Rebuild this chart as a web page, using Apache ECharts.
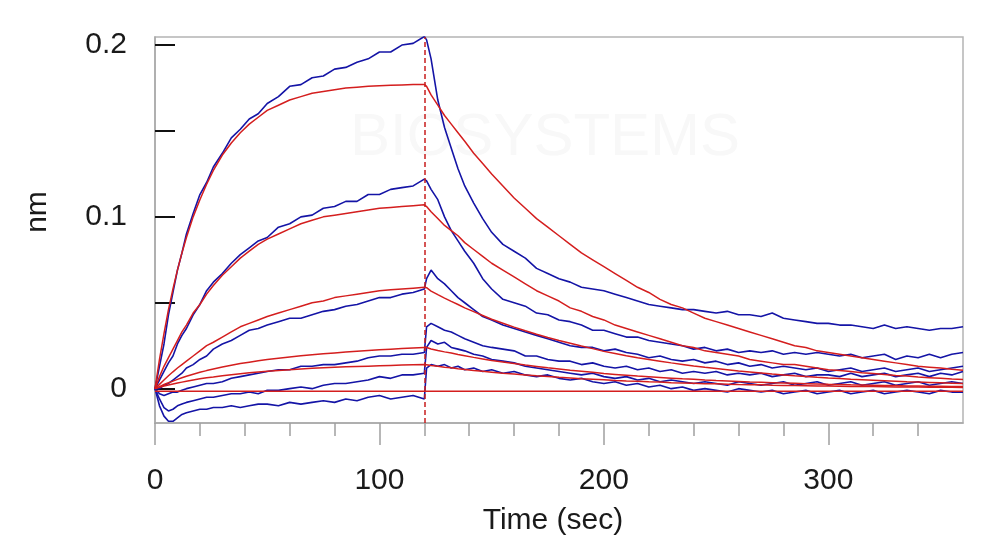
<!DOCTYPE html>
<html>
<head>
<meta charset="utf-8">
<script src="https://cdn.jsdelivr.net/npm/echarts@6/dist/echarts.min.js"></script>
<style>
    html, body { margin: 0; padding: 0; background: #ffffff; }
    #kinetics { width: 1000px; height: 557px; }
</style>
</head>
<body>
<div id="kinetics"></div>
<script>
// time points (sec): association phase, then dissociation after the switch
var assocTime = [0,2,4,6,8,10,12,14,17,20,23,26,30,34,38,42,46,50,55,60,65,70,75,80,85,90,95,100,105,110,115,120];
var dissocTime = [121,123,126,129,132,135,138,142,146,150,155,160,165,170,175,180,185,190,195,200,
    205,210,215,220,225,230,235,240,245,250,255,260,265,270,275,280,285,290,295,300,
    305,310,315,320,325,330,335,340,345,350,355,360];
var switchTime = 120;

// measured traces (nm)
var trace1On = [0.000,0.013,0.026,0.043,0.056,0.069,0.079,0.090,0.102,0.113,0.120,0.129,0.137,0.146,0.151,0.157,0.160,0.166,0.170,0.176,0.177,0.181,0.182,0.186,0.187,0.190,0.192,0.196,0.196,0.200,0.201,0.205];
var trace1Off = [0.203,0.192,0.168,0.152,0.140,0.128,0.118,0.108,0.099,0.091,
    0.084,0.080,0.076,0.070,0.067,0.064,0.062,0.059,0.058,0.057,
    0.055,0.053,0.051,0.049,0.048,0.047,0.046,0.046,0.045,0.044,
    0.045,0.043,0.043,0.042,0.044,0.041,0.040,0.039,0.038,0.038,
    0.037,0.037,0.036,0.035,0.037,0.035,0.036,0.035,0.034,0.035,
    0.035,0.036];
var trace2On = [0.000,0.005,0.010,0.015,0.019,0.026,0.031,0.035,0.043,0.049,0.057,0.062,0.067,0.073,0.078,0.082,0.086,0.088,0.094,0.096,0.100,0.101,0.105,0.106,0.109,0.109,0.113,0.113,0.116,0.117,0.118,0.122];
var trace2Off = [0.121,0.116,0.110,0.100,0.092,0.086,0.080,0.073,0.064,0.058,
    0.052,0.050,0.048,0.044,0.043,0.040,0.039,0.037,0.034,0.034,
    0.032,0.030,0.030,0.028,0.027,0.026,0.025,0.023,0.024,0.022,
    0.023,0.021,0.022,0.021,0.022,0.020,0.021,0.020,0.021,0.020,
    0.019,0.020,0.018,0.019,0.020,0.017,0.019,0.018,0.020,0.018,
    0.020,0.021];
var trace3On = [0.000,0.000,0.002,0.003,0.005,0.007,0.009,0.012,0.014,0.017,0.019,0.023,0.026,0.028,0.031,0.034,0.035,0.037,0.039,0.041,0.041,0.043,0.045,0.046,0.048,0.049,0.051,0.053,0.053,0.055,0.056,0.058];
var trace3Off = [0.064,0.069,0.064,0.061,0.057,0.053,0.050,0.046,0.042,0.040,
    0.037,0.035,0.033,0.031,0.029,0.027,0.025,0.024,0.024,0.022,
    0.023,0.021,0.020,0.018,0.019,0.017,0.016,0.017,0.015,0.016,
    0.014,0.015,0.013,0.014,0.012,0.013,0.012,0.011,0.012,0.010,
    0.011,0.012,0.010,0.011,0.012,0.010,0.011,0.012,0.010,0.011,
    0.012,0.013];
var trace4On = [0.000,-0.003,-0.004,-0.003,-0.002,-0.002,-0.001,0.000,0.001,0.002,0.003,0.003,0.004,0.006,0.007,0.008,0.009,0.010,0.011,0.011,0.013,0.013,0.014,0.014,0.015,0.016,0.018,0.019,0.019,0.020,0.020,0.021];
var trace4Off = [0.036,0.038,0.036,0.034,0.033,0.031,0.029,0.027,0.025,0.024,
    0.023,0.022,0.019,0.019,0.017,0.016,0.016,0.014,0.015,0.013,
    0.012,0.013,0.011,0.012,0.010,0.011,0.009,0.010,0.009,0.010,
    0.008,0.009,0.008,0.009,0.007,0.008,0.009,0.007,0.008,0.008,
    0.007,0.009,0.007,0.008,0.009,0.007,0.008,0.009,0.007,0.009,
    0.008,0.010];
var trace5On = [0.000,-0.006,-0.011,-0.013,-0.012,-0.010,-0.009,-0.008,-0.007,-0.006,-0.005,-0.005,-0.004,-0.003,-0.003,-0.002,-0.003,-0.001,-0.001,0.000,0.001,0.000,0.002,0.003,0.003,0.004,0.005,0.007,0.006,0.008,0.008,0.009];
var trace5Off = [0.024,0.028,0.026,0.027,0.024,0.023,0.022,0.020,0.019,0.017,
    0.016,0.015,0.013,0.012,0.011,0.010,0.009,0.008,0.009,0.007,
    0.006,0.007,0.005,0.006,0.004,0.005,0.004,0.003,0.004,0.003,
    0.002,0.004,0.003,0.002,0.003,0.004,0.002,0.003,0.004,0.002,
    0.003,0.004,0.002,0.003,0.004,0.002,0.003,0.004,0.002,0.003,
    0.004,0.003];
var trace6On = [0.000,-0.010,-0.016,-0.019,-0.019,-0.017,-0.015,-0.014,-0.013,-0.012,-0.012,-0.011,-0.011,-0.010,-0.011,-0.010,-0.009,-0.009,-0.010,-0.008,-0.009,-0.008,-0.007,-0.008,-0.006,-0.007,-0.005,-0.004,-0.006,-0.005,-0.004,-0.006];
var trace6Off = [0.012,0.014,0.013,0.014,0.012,0.013,0.011,0.012,0.010,0.011,
    0.009,0.010,0.008,0.007,0.008,0.006,0.005,0.006,0.004,0.003,
    0.004,0.002,0.003,0.001,0.002,0.000,0.001,-0.001,0.000,-0.001,
    -0.002,0.000,-0.001,-0.002,-0.001,-0.003,-0.002,-0.001,-0.003,-0.002,
    -0.001,-0.003,-0.002,-0.001,-0.003,-0.002,-0.001,-0.002,-0.003,-0.001,
    -0.002,-0.002];

// fitted curves (nm)
var fit1On = [0,0.017,0.032,0.046,0.058,0.069,0.079,0.088,0.100,0.110,0.119,0.127,0.136,0.143,0.149,0.154,0.158,0.162,0.165,0.168,0.170,0.172,0.173,0.174,0.175,0.1755,0.176,0.1763,0.1766,0.1768,0.177,0.1771];
var fit1Off = [0.176,0.171,0.165,0.159,0.154,0.149,0.144,0.137,0.131,0.125,
    0.118,0.111,0.105,0.099,0.094,0.089,0.084,0.079,0.075,0.071,
    0.067,0.063,0.059,0.056,0.052,0.049,0.047,0.044,0.041,0.039,
    0.037,0.035,0.033,0.031,0.029,0.027,0.025,0.024,0.022,0.021,
    0.020,0.019,0.018,0.017,0.016,0.015,0.014,0.013,0.0125,0.012,
    0.0113,0.0107];
var fit2On = [0,0.007,0.013,0.018,0.023,0.028,0.033,0.037,0.044,0.049,0.055,0.060,0.066,0.071,0.076,0.080,0.084,0.087,0.090,0.093,0.096,0.098,0.100,0.101,0.102,0.103,0.104,0.105,0.1055,0.106,0.1065,0.107];
var fit2Off = [0.106,0.103,0.099,0.095,0.092,0.089,0.085,0.081,0.077,0.073,
    0.069,0.065,0.061,0.057,0.054,0.051,0.047,0.045,0.042,0.040,
    0.037,0.035,0.033,0.031,0.029,0.027,0.025,0.024,0.022,0.021,
    0.020,0.019,0.017,0.016,0.015,0.014,0.014,0.013,0.012,0.011,
    0.0105,0.010,0.0093,0.0088,0.0082,0.0077,0.0073,0.0068,0.0064,0.006,
    0.0056,0.0053];
var fit3On = [0,0.0025,0.005,0.0075,0.0098,0.012,0.014,0.016,0.019,0.022,0.025,0.027,0.030,0.033,0.036,0.038,0.040,0.042,0.044,0.046,0.048,0.050,0.051,0.053,0.054,0.055,0.056,0.057,0.0575,0.058,0.0585,0.059];
var fit3Off = [0.0588,0.0568,0.0547,0.0527,0.0508,0.049,0.047,0.0448,0.0426,0.0404,
    0.0381,0.0358,0.0337,0.0317,0.0298,0.028,0.0264,0.0248,0.0233,0.0217,
    0.0205,0.0192,0.018,0.017,0.016,0.015,0.0141,0.0132,0.0124,0.0117,
    0.011,0.0103,0.0097,0.0091,0.0085,0.008,0.0075,0.0071,0.0066,0.0062,
    0.0059,0.0055,0.0052,0.0049,0.0046,0.0043,0.004,0.0038,0.0036,0.0034,
    0.0032,0.003];
var fit4On = [0,0.0012,0.0024,0.0034,0.0044,0.0054,0.0063,0.0072,0.0084,0.0095,0.0105,0.0114,0.0126,0.0136,0.0146,0.0154,0.0162,0.0169,0.0177,0.0184,0.0191,0.0197,0.0203,0.0208,0.0213,0.0218,0.0222,0.0226,0.023,0.0234,0.0237,0.024];
var fit4Off = [0.0239,0.0231,0.0222,0.0214,0.0207,0.0199,0.0192,0.0182,0.0173,0.0164,
    0.0155,0.0146,0.0137,0.0129,0.0121,0.0114,0.0107,0.0101,0.0095,0.0088,
    0.0083,0.0078,0.0073,0.0069,0.0065,0.0061,0.0057,0.0054,0.005,0.0047,
    0.0045,0.0042,0.0039,0.0037,0.0035,0.0033,0.0031,0.0029,0.0027,0.0025,
    0.0024,0.0022,0.0021,0.002,0.0019,0.0018,0.0016,0.0015,0.0014,0.0014,
    0.0013,0.0012];
var fit5On = [0,0.0008,0.0015,0.0021,0.0027,0.0033,0.0038,0.0043,0.005,0.0057,0.0063,0.0068,0.0075,0.0081,0.0087,0.0092,0.0097,0.0101,0.0106,0.011,0.0114,0.0118,0.0121,0.0124,0.0127,0.0129,0.0131,0.0133,0.0135,0.0137,0.0139,0.014];
var fit5Off = [0.0139,0.0135,0.013,0.0125,0.0121,0.0116,0.0112,0.0106,0.0101,0.0096,
    0.009,0.0085,0.008,0.0075,0.0071,0.0066,0.0062,0.0058,0.0055,0.0052,
    0.0048,0.0045,0.0043,0.004,0.0038,0.0035,0.0033,0.0031,0.0029,0.0028,
    0.0026,0.0024,0.0023,0.0022,0.002,0.0019,0.0018,0.0017,0.0016,0.0015,
    0.0014,0.0013,0.0012,0.0012,0.0011,0.001,0.001,0.0009,0.0008,0.0008,
    0.0008,0.0007];
var fit6Time = [0, 360];
var fit6Values = [-0.0015, -0.0015];

// axis ticks and labels
var xMajorTicks = [0, 100, 200, 300];
var xMinorTicks = [0,20,40,60,80,100,120,140,160,180,200,220,240,260,280,300,320,340];
var yTicks = [0, 0.05, 0.1, 0.15, 0.2];
var yLabels = [0, 0.1, 0.2];

var traceColor = '#1414a6';
var fitColor = '#d41e1e';
var fontName = 'Liberation Sans, Arial, sans-serif';

function joinPhases(on, off) {
    var d = [];
    for (var i = 0; i < assocTime.length; i++) d.push([assocTime[i], on[i]]);
    for (var j = 0; j < dissocTime.length; j++) d.push([dissocTime[j], off[j]]);
    return d;
}

function lineSeries(data, color, width) {
    return {
        type: 'line',
        xAxisIndex: 0,
        yAxisIndex: 0,
        data: data,
        symbol: 'none',
        silent: true,
        lineStyle: { color: color, width: width }
    };
}

var series = [];
var traces = [[trace1On, trace1Off], [trace2On, trace2Off], [trace3On, trace3Off],
    [trace4On, trace4Off], [trace5On, trace5Off], [trace6On, trace6Off]];
for (var k = 0; k < traces.length; k++) {
    series.push(lineSeries(joinPhases(traces[k][0], traces[k][1]), traceColor, 1.6));
}
var fits = [[fit1On, fit1Off], [fit2On, fit2Off], [fit3On, fit3Off], [fit4On, fit4Off], [fit5On, fit5Off]];
for (var m = 0; m < fits.length; m++) {
    series.push(lineSeries(joinPhases(fits[m][0], fits[m][1]), fitColor, 1.5));
}
var flatFit = lineSeries(fit6Time.map(function (t, i) { return [t, fit6Values[i]]; }), fitColor, 1.5);
flatFit.markLine = {
    silent: true,
    symbol: 'none',
    label: { show: false },
    lineStyle: { color: '#c81e1e', type: [5, 3], width: 1.5 },
    data: [{ xAxis: switchTime }]
};
series.push(flatFit);

var chart = echarts.init(document.getElementById('kinetics'));
var option = {
    backgroundColor: '#ffffff',
    animation: false,
    grid: [
        { left: 155, top: 37, width: 808, height: 386, show: true, borderColor: '#b4b4b4', borderWidth: 1.5, backgroundColor: 'transparent' },
        { left: 155, top: 37, width: 808, height: 386 }
    ],
    graphic: [
        {
            type: 'text', left: 350, top: 108, silent: true, z: -1,
            style: { text: 'BIOSYSTEMS', fill: '#f8f8f8', font: '60px ' + fontName }
        },
        {
            type: 'text', x: 553, y: 521, silent: true,
            style: { text: 'Time (sec)', fill: '#1a1a1a', font: '30px ' + fontName, textAlign: 'center', textVerticalAlign: 'middle' }
        },
        {
            type: 'text', x: 38, y: 212, rotation: Math.PI / 2, silent: true,
            style: { text: 'nm', fill: '#1a1a1a', font: '30px ' + fontName, textAlign: 'center', textVerticalAlign: 'middle' }
        }
    ],
    xAxis: [
        {
            gridIndex: 0, type: 'value', min: 0, max: 360,
            axisLine: { onZero: false, lineStyle: { color: '#a8a8a8', width: 1.5 } },
            axisTick: { customValues: xMajorTicks, length: 22, lineStyle: { color: '#a0a0a0', width: 1.5 } },
            axisLabel: { customValues: xMajorTicks, margin: 43, color: '#1a1a1a', fontSize: 30, fontFamily: fontName },
            splitLine: { show: false }
        },
        {
            gridIndex: 1, type: 'value', min: 0, max: 360,
            axisLine: { show: false, onZero: false },
            axisTick: { customValues: xMinorTicks, length: 13, lineStyle: { color: '#a0a0a0', width: 1.5 } },
            axisLabel: { show: false },
            splitLine: { show: false }
        }
    ],
    yAxis: [
        {
            gridIndex: 0, type: 'value', min: -0.02, max: 0.2047,
            axisLine: { show: true, onZero: false, lineStyle: { color: '#a8a8a8', width: 1.5 } },
            axisTick: { show: true, inside: true, customValues: yTicks, length: 20, lineStyle: { color: '#111111', width: 2 } },
            axisLabel: {
                customValues: yLabels, margin: 28, color: '#1a1a1a', fontSize: 30, fontFamily: fontName,
                formatter: function (v) { return v === 0 ? '0' : v.toFixed(1); }
            },
            splitLine: { show: false }
        },
        { gridIndex: 1, type: 'value', min: 0, max: 1, show: false }
    ],
    series: series
};
chart.setOption(option);
</script>
</body>
</html>
